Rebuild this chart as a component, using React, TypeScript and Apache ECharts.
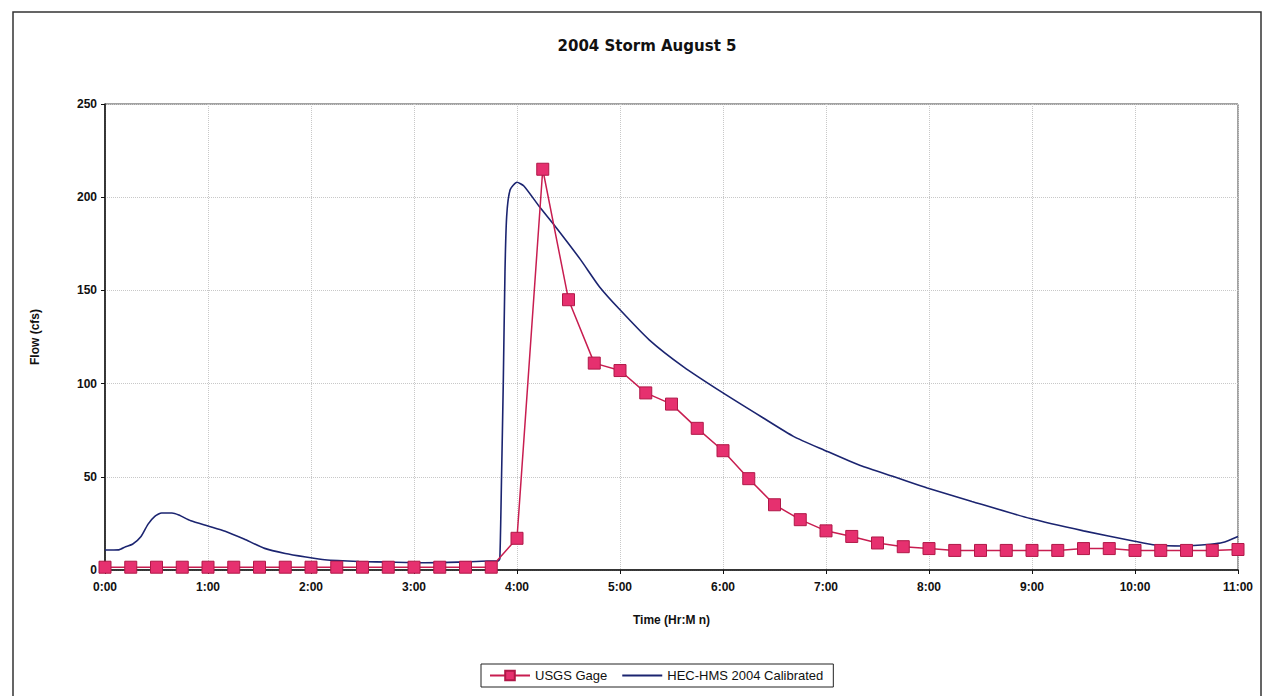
import React, { useEffect, useRef } from "react";
import * as echarts from "echarts";

const chartTitle = "2004 Storm August 5";
const xAxisTitle = "Time (Hr:M n)";
const yAxisTitle = "Flow (cfs)";
const gageName = "USGS Gage";
const hmsName = "HEC-HMS 2004 Calibrated";

// USGS gage: every 15 minutes from 0:00 to 11:00 (minutes, cfs)
const gageMinutes = [
  0, 15, 30, 45, 60, 75, 90, 105, 120, 135, 150, 165, 180, 195, 210, 225,
  240, 255, 270, 285, 300, 315, 330, 345, 360, 375, 390, 405, 420, 435, 450,
  465, 480, 495, 510, 525, 540, 555, 570, 585, 600, 615, 630, 645, 660,
];
const gageFlow = [
  1.5, 1.5, 1.5, 1.5, 1.5, 1.5, 1.5, 1.5, 1.5, 1.5, 1.5, 1.5, 1.5, 1.5, 1.5, 1.5,
  17, 215, 145, 111, 107, 95, 89, 76, 64, 49, 35, 27, 21, 18, 14.5,
  12.5, 11.5, 10.5, 10.5, 10.5, 10.5, 10.5, 11.5, 11.5, 10.5, 10.5, 10.5, 10.5, 11,
];

// HEC-HMS 2004 calibrated hydrograph (minutes, cfs)
const hmsMinutes = [
  0, 8, 12, 16, 21, 25, 29, 33, 39, 43, 50, 60, 70, 81, 93, 105, 117, 128,
  148, 167, 186, 206, 223, 229, 230, 231, 232, 233, 234, 236, 240, 244, 253,
  263, 277, 288, 300, 317, 337, 360, 383, 401, 419, 440, 461, 479, 505, 539,
  570, 599, 612, 628, 644, 651, 660,
];
const hmsFlow = [
  10.7, 10.8, 12.5, 13.8, 18, 24.5, 28.8, 30.6, 30.6, 29.5, 26.4, 23.6, 20.8,
  16.6, 11.6, 8.9, 7, 5.5, 4.6, 4.2, 3.9, 4.2, 4.8, 4.8, 6, 50, 100, 160, 190,
  204, 208, 206, 195, 183.5, 166.5, 152, 139.6, 123.5, 109, 95, 81.8, 71.7,
  64.3, 56, 49.6, 44, 36.8, 27.6, 21, 15.6, 13.4, 12.9, 13.8, 14.7, 18,
];

const yTicks = { min: 0, max: 250, interval: 50 };
const xTicks = { min: 0, max: 660, interval: 60 };

const fmtTime = (m: number) => `${Math.floor(m / 60)}:${String(m % 60).padStart(2, "0")}`;

export default function App() {
  const ref = useRef<HTMLDivElement>(null);

  useEffect(() => {
    if (!ref.current) return;
    const chart = echarts.init(ref.current, null, { renderer: "svg" });
    const font = "Liberation Sans, Arial, sans-serif";
    chart.setOption({
      animation: false,
      backgroundColor: "#ffffff",
      title: {
        text: chartTitle,
        left: 642,
        textAlign: "center",
        top: 33,
        textStyle: { fontFamily: "DejaVu Sans, sans-serif", fontWeight: "bold", fontSize: 15, color: "#111" },
      },
      graphic: [
        {
          type: "rect",
          shape: { x: 13, y: 12, width: 1248, height: 720 },
          style: { fill: "none", stroke: "#333", lineWidth: 1.5 },
          silent: true,
        },
      ],
      legend: {
        left: 481,
        top: 664,
        itemWidth: 40,
        itemHeight: 12,
        itemGap: 14,
        padding: [5, 10, 5, 8],
        borderColor: "#222",
        borderWidth: 1,
        textStyle: { fontFamily: font, fontSize: 13, color: "#111" },
        data: [
          { name: gageName },
          { name: hmsName, itemStyle: { opacity: 0 } },
        ],
      },
      grid: {
        left: 105,
        right: 26,
        top: 104,
        bottom: 126,
        show: true,
        borderColor: "#444",
        borderWidth: 1,
        backgroundColor: "#fff",
      },
      xAxis: {
        type: "value",
        min: xTicks.min,
        max: xTicks.max,
        interval: xTicks.interval,
        name: xAxisTitle,
        nameLocation: "middle",
        nameGap: 44,
        nameTextStyle: { fontFamily: font, fontWeight: "bold", fontSize: 12, color: "#111" },
        axisLine: { lineStyle: { color: "#111", width: 1.5 } },
        axisTick: { show: true, length: 4, lineStyle: { color: "#111" } },
        axisLabel: {
          margin: 11,
          fontFamily: font,
          fontWeight: "bold",
          fontSize: 12,
          color: "#111",
          formatter: (v: number) => fmtTime(v),
        },
        splitLine: { show: true, lineStyle: { color: "#c8c8c8", type: "dotted", width: 1 } },
      },
      yAxis: {
        type: "value",
        min: yTicks.min,
        max: yTicks.max,
        interval: yTicks.interval,
        name: yAxisTitle,
        nameLocation: "middle",
        nameRotate: 90,
        nameGap: 64,
        nameTextStyle: { fontFamily: font, fontWeight: "bold", fontSize: 12, color: "#111" },
        axisLine: { show: true, lineStyle: { color: "#111", width: 1.5 } },
        axisTick: { show: true, length: 4, lineStyle: { color: "#111" } },
        axisLabel: { margin: 8, fontFamily: font, fontWeight: "bold", fontSize: 12, color: "#111" },
        splitLine: { show: true, lineStyle: { color: "#c8c8c8", type: "dotted", width: 1 } },
      },
      series: [
        {
          name: gageName,
          type: "line",
          z: 3,
          data: gageMinutes.map((m, i) => [m, gageFlow[i]]),
          symbol: "rect",
          symbolSize: 12,
          lineStyle: { color: "#c81d50", width: 1.5 },
          itemStyle: { color: "#e6306f", borderColor: "#b01848", borderWidth: 1 },
        },
        {
          name: hmsName,
          type: "line",
          z: 2,
          data: hmsMinutes.map((m, i) => [m, hmsFlow[i]]),
          symbol: "none",
          smooth: 0.2,
          lineStyle: { color: "#1b2470", width: 1.6 },
          itemStyle: { color: "#1b2470" },
        },
      ],
    });
    return () => chart.dispose();
  }, []);

  return (
    <div
      ref={ref}
      style={{ position: "fixed", left: 0, top: 0, width: 1264, height: 696, background: "#fff" }}
    />
  );
}
